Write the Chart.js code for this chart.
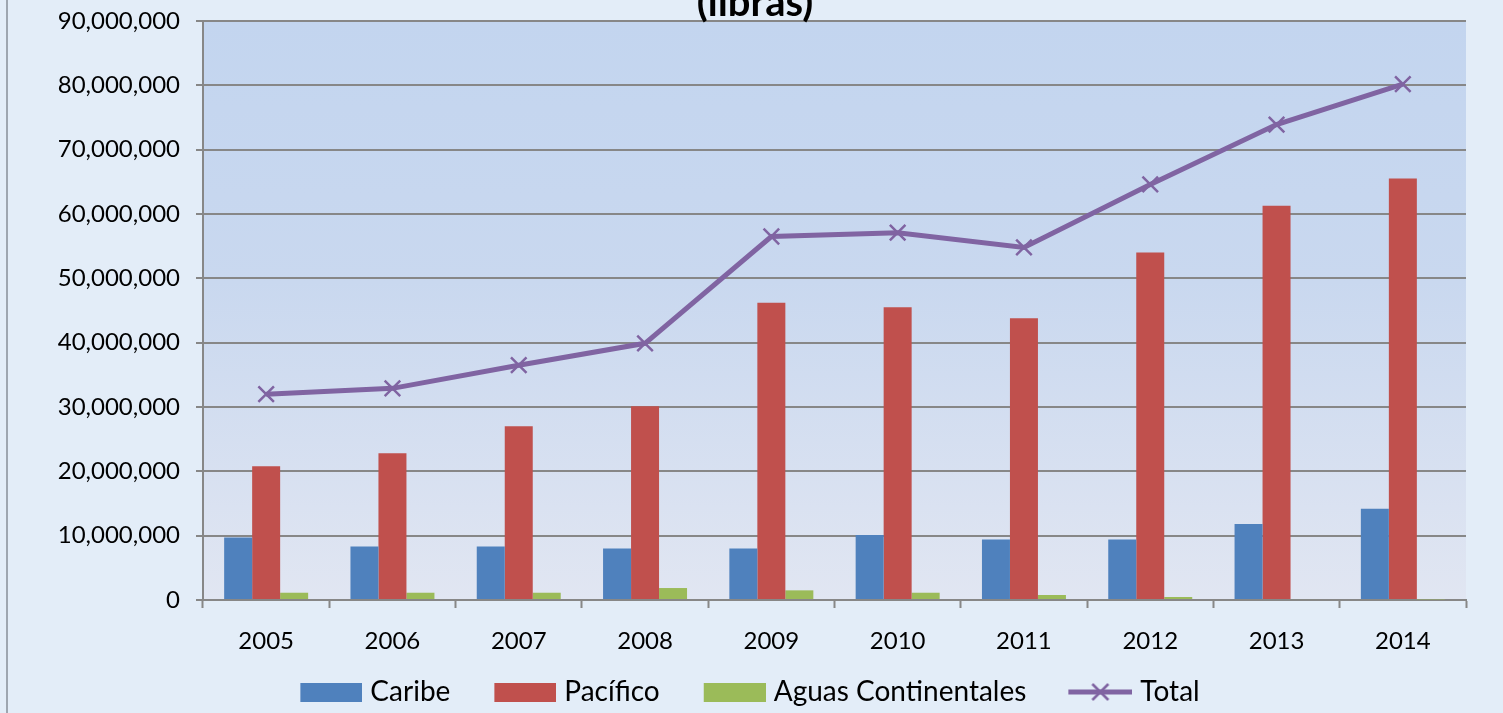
<!DOCTYPE html>
<html>
<head>
<meta charset="utf-8">
<script src="https://cdn.jsdelivr.net/npm/chart.js@4.4.1/dist/chart.umd.min.js"></script>
<style>
    html, body { margin: 0; padding: 0; background: #e3edf8; overflow: hidden; }
    #wrap { position: relative; width: 1503px; height: 713px; }
</style>
</head>
<body>
<div id="wrap"><canvas id="barChart" width="1503" height="713"></canvas></div>
<script>
// data
var years = ['2005', '2006', '2007', '2008', '2009', '2010', '2011', '2012', '2013', '2014'];
var caribe = [9700000, 8300000, 8300000, 8000000, 8000000, 10100000, 9400000, 9400000, 11800000, 14200000];
var pacifico = [20800000, 22800000, 27000000, 30100000, 46200000, 45500000, 43800000, 54000000, 61300000, 65500000];
var aguas = [1130000, 1130000, 1130000, 1860000, 1500000, 1130000, 780000, 470000, 150000, 100000];
var total = [32000000, 32900000, 36500000, 39900000, 56500000, 57100000, 54800000, 64600000, 73900000, 80200000];
var yTicks = [0, 10000000, 20000000, 30000000, 40000000, 50000000, 60000000, 70000000, 80000000, 90000000];

(function () {
    'use strict';

    var colors = ['#4f81bd', '#c0504d', '#9bbb59', '#8064a2'];
    var gridColor = '#878787';
    var fontFamily = "Lato, 'Open Sans', sans-serif";

    // legend swatches (transparent left part gives the gap between items)
    var SW = 102;
    function boxSwatch(color) {
        var c = document.createElement('canvas');
        c.width = SW; c.height = 19;
        var g = c.getContext('2d');
        g.fillStyle = color;
        g.fillRect(SW - 62, 0, 62, 19);
        return c;
    }
    function lineSwatch(color) {
        var c = document.createElement('canvas');
        c.width = SW; c.height = 24;
        var g = c.getContext('2d');
        var x0 = SW - 64;
        g.strokeStyle = color;
        g.lineWidth = 5;
        g.beginPath(); g.moveTo(x0, 12); g.lineTo(SW, 12); g.stroke();
        g.lineWidth = 2.5;
        g.beginPath();
        g.moveTo(x0 + 24, 4); g.lineTo(x0 + 40, 20);
        g.moveTo(x0 + 40, 4); g.lineTo(x0 + 24, 20);
        g.stroke();
        return c;
    }
    var swatches = [boxSwatch(colors[0]), boxSwatch(colors[1]), boxSwatch(colors[2]), lineSwatch(colors[3])];

    // plot area gradient, frame line and the (cut) title
    var decor = {
        id: 'decor',
        beforeDraw: function (chart) {
            var ctx = chart.ctx, a = chart.chartArea;
            ctx.save();
            ctx.fillStyle = '#e3edf8';
            ctx.fillRect(0, 0, chart.width, chart.height);
            ctx.fillStyle = '#9ea6b0';
            ctx.fillRect(6, 0, 2, chart.height);
            var grd = ctx.createLinearGradient(0, a.top, 0, a.bottom);
            grd.addColorStop(0, '#c3d5ef');
            grd.addColorStop(0.45, '#c9d8ef');
            grd.addColorStop(1, '#e1e6f2');
            ctx.fillStyle = grd;
            ctx.fillRect(a.left, a.top, a.right - a.left, a.bottom - a.top);
            ctx.restore();
        },
        afterDraw: function (chart) {
            var ctx = chart.ctx;
            ctx.save();
            ctx.fillStyle = '#000';
            ctx.font = "bold 40px " + fontFamily;
            ctx.textAlign = 'center';
            ctx.textBaseline = 'alphabetic';
            ctx.fillText('(libras)', 755, 16);
            ctx.restore();
        }
    };

    var canvas = document.getElementById('barChart').getContext('2d');
    new Chart(canvas, {
        type: 'bar',
        data: {
            labels: years,
            datasets: [{
                label: 'Caribe',
                data: caribe,
                backgroundColor: colors[0],
                order: 1
            }, {
                label: 'Pacífico',
                data: pacifico,
                backgroundColor: colors[1],
                order: 1
            }, {
                label: 'Aguas Continentales',
                data: aguas,
                backgroundColor: colors[2],
                order: 1
            }, {
                type: 'line',
                label: 'Total',
                data: total,
                borderColor: colors[3],
                backgroundColor: colors[3],
                borderWidth: 5,
                tension: 0,
                pointStyle: 'crossRot',
                pointRadius: 11,
                pointBorderWidth: 2.5,
                pointBorderColor: colors[3],
                order: 0
            }]
        },
        options: {
            responsive: false,
            animation: false,
            layout: { padding: { top: 21, right: 37, left: 0, bottom: -3 } },
            datasets: {
                bar: { categoryPercentage: 0.665, barPercentage: 1.0 }
            },
            scales: {
                x: {
                    afterFit: function (scale) {
                        scale.height = 68;
                        scale.paddingLeft = 0;
                        scale.paddingRight = 0;
                    },
                    grid: {
                        drawOnChartArea: false,
                        drawTicks: true,
                        tickLength: 8,
                        tickWidth: 2,
                        tickColor: gridColor,
                        offset: true
                    },
                    border: { color: gridColor, width: 2 },
                    ticks: {
                        color: '#000',
                        padding: 19,
                        font: { family: fontFamily, size: 24 }
                    }
                },
                y: {
                    min: 0,
                    max: 90000000,
                    afterFit: function (scale) {
                        scale.width = 203;
                        scale.paddingTop = 0;
                        scale.paddingBottom = 0;
                    },
                    afterBuildTicks: function (scale) {
                        scale.ticks = yTicks.map(function (v) { return { value: v }; });
                    },
                    grid: {
                        color: gridColor,
                        lineWidth: 2,
                        drawTicks: true,
                        tickLength: 7
                    },
                    border: { color: gridColor, width: 2 },
                    ticks: {
                        color: '#000',
                        padding: 16,
                        font: { family: fontFamily, size: 24 },
                        callback: function (value) {
                            return Number(value).toLocaleString('en-US');
                        }
                    }
                }
            },
            plugins: {
                legend: {
                    position: 'bottom',
                    labels: {
                        color: '#000',
                        font: { family: fontFamily, size: 28 },
                        padding: 10,
                        usePointStyle: true,
                        pointStyleWidth: 90,
                        boxHeight: 28,
                        generateLabels: function (chart) {
                            return chart.data.datasets.map(function (ds, i) {
                                return {
                                    text: ds.label,
                                    fillStyle: colors[i],
                                    strokeStyle: colors[i],
                                    lineWidth: 0,
                                    pointStyle: swatches[i],
                                    hidden: false,
                                    datasetIndex: i
                                };
                            });
                        }
                    }
                },
                tooltip: { enabled: false }
            }
        },
        plugins: [decor]
    });
})();
</script>
</body>
</html>
